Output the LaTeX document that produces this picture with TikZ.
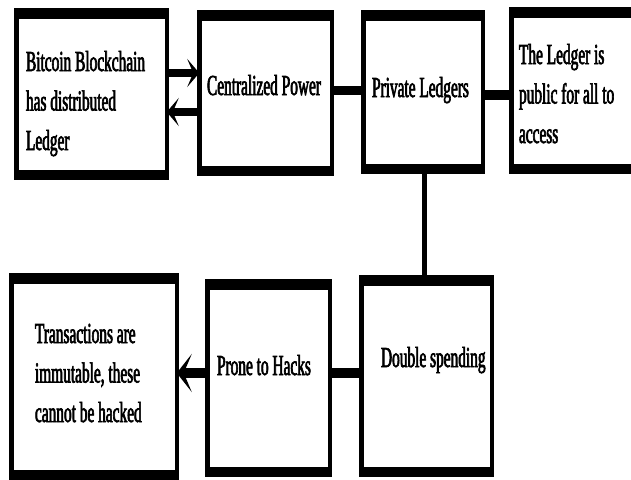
\documentclass[tikz,border=0pt]{standalone}
\usepackage{fontspec}
\setmainfont{Liberation Serif}[FakeStretch=0.53, FakeBold=2.2]
\usetikzlibrary{arrows.meta}

% A panel: thin sides, heavy top and bottom bars.
% #1 name, #2 #3 outer top-left corner, #4 #5 outer bottom-right corner
\newcommand\panelbox[5]{%
  \node[panel, minimum width={#4-#2-4.5}, minimum height={#5-#3-4.5}]
    (#1) at ({(#2+#4)/2},{(#3+#5)/2}) {};
  \fill (#2,#3) rectangle (#4,{#3+10.5});
  \fill (#2,{#5-10.5}) rectangle (#4,#5);
}

\tikzset{
  panel/.style={draw=black, line width=4.5pt, fill=white, inner sep=0pt, outer sep=0pt},
  label/.style={inner sep=0pt, outer sep=0pt, anchor=base west, align=left,
    font=\fontsize{29}{39.5}\selectfont},
  link/.style={line width=#1, draw=black},
  link/.default=9pt,
  smallhead/.style={-{Stealth[length=12pt, width=28pt, inset=6pt]}},
  bighead/.style={-{Stealth[length=15pt, width=38pt, inset=8pt]}},
}

\begin{document}
\begin{tikzpicture}[x=1pt, y=-1pt]
\useasboundingbox (0,0) rectangle (631,479);
\clip (0,0) rectangle (631,479);
\fill[white] (0,0) rectangle (631,479);

% panels
\panelbox{b1}{14}{8}{169}{180}
\panelbox{b2}{197}{10}{334}{176}
\panelbox{b3}{361}{10}{485}{174}
\panelbox{b4}{509}{7}{660}{174}
\panelbox{b5}{359}{275}{494}{477}
\panelbox{b6}{205}{279}{332}{477}
\panelbox{b7}{9}{273}{179}{480}

% texts (a multi-line label sits on the baseline of its last line)
\node[label] (t1) at (26,150) {Bitcoin Blockchain\\has distributed\\Ledger};
\node[label] (t2) at (207,95) {Centralized Power};
\node[label] (t3) at (372,97) {Private Ledgers};
\node[label] (t4) at (519,143) {The Ledger is\\public for all to\\access};
\node[label] (t5) at (381,367) {Double spending};
\node[label] (t6) at (217,375) {Prone to Hacks};
\node[label] (t7) at (35,422) {Transactions are\\immutable, these\\cannot be hacked};

% connectors
\draw[link=8pt, smallhead] (b1.east |- 0,73) -- (b2.west |- 0,73);
\draw[link=8pt, smallhead] (b2.west |- 0,112) -- (b1.east |- 0,112);
\draw[link=9pt] (b2.east |- 0,90.5) -- (b3.west |- 0,90.5);
\draw[link=10pt] (b3.east |- 0,95) -- (b4.west |- 0,95);
\draw[link=5pt] (b3.south -| 424,0) -- (b5.north -| 424,0);
\draw[link=10pt] (b5.west |- 0,373) -- (b6.east |- 0,373);
\draw[link=10pt, bighead] (b6.west |- 0,373) -- (b7.east |- 0,373);
\end{tikzpicture}
\end{document}
